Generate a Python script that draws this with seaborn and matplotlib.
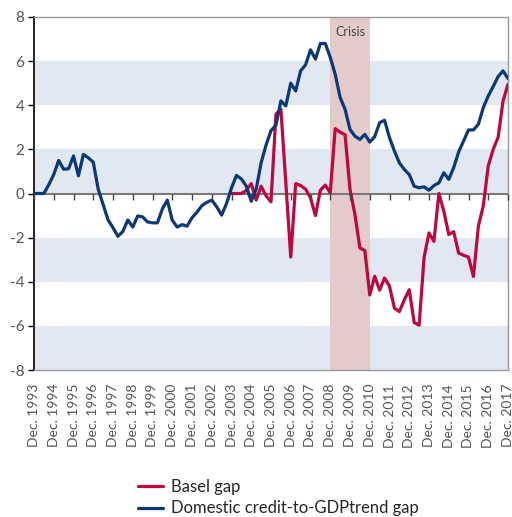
import numpy as np
import pandas as pd
import matplotlib
matplotlib.use("Agg")
import matplotlib.pyplot as plt
import seaborn as sns
from matplotlib.lines import Line2D

# Quarterly data, Dec. 1993 - Dec. 2017
quarters = pd.period_range("1993Q4", "2017Q4", freq="Q")

credit_gap = [0.0, 0.0, 0.0, 0.4, 0.86, 1.5, 1.1, 1.12, 1.7, 0.8,
              1.77, 1.62, 1.42, 0.2, -0.5, -1.2, -1.55, -1.94, -1.72, -1.2,
              -1.52, -1.02, -1.06, -1.29, -1.33, -1.33, -0.7, -0.3, -1.21, -1.52,
              -1.41, -1.48, -1.1, -0.85, -0.55, -0.4, -0.3, -0.6, -0.98, -0.45,
              0.25, 0.82, 0.66, 0.33, -0.35, 0.2, 1.39, 2.2, 2.85, 3.1,
              4.2, 3.97, 5.0, 4.65, 5.56, 5.83, 6.51, 6.09, 6.8, 6.8,
              6.17, 5.41, 4.35, 3.82, 2.9, 2.6, 2.45, 2.68, 2.33, 2.58,
              3.21, 3.32, 2.53, 1.92, 1.39, 1.09, 0.86, 0.33, 0.26, 0.3,
              0.15, 0.36, 0.48, 0.94, 0.64, 1.17, 1.88, 2.38, 2.88, 2.88,
              3.14, 3.9, 4.42, 4.85, 5.3, 5.56, 5.21]

# Basel gap starts in 2003Q4
basel_start = "2003Q4"
basel_gap = [0.0, 0.0, 0.0, 0.14, 0.45, -0.3, 0.33, -0.1, -0.38, 3.6,
             3.82, 0.5, -2.88, 0.45, 0.36, 0.2, -0.2, -1.0, 0.15, 0.38,
             0.03, 2.94, 2.78, 2.66, 0.18, -0.95, -2.47, -2.58, -4.6, -3.75,
             -4.38, -3.83, -4.2, -5.2, -5.35, -4.82, -4.36, -5.85, -5.97, -2.9,
             -1.79, -2.17, 0.0, -0.8, -1.86, -1.73, -2.7, -2.8, -2.88, -3.76,
             -1.48, -0.55, 1.25, 2.0, 2.55, 4.2, 4.95]

crisis = ("2008Q4", "2010Q4")
year_labels = [f"Dec. {y}" for y in range(1993, 2018)]

blue = "#0c3878"
red = "#c0063f"
band = "#e1e8f2"

# Build long table
qpos = {p: i for i, p in enumerate(quarters)}
df_blue = pd.DataFrame({"q": range(len(quarters)), "value": credit_gap,
                        "series": "Domestic credit-to-GDPtrend gap"})
b0 = qpos[pd.Period(basel_start, freq="Q")]
df_red = pd.DataFrame({"q": range(b0, b0 + len(basel_gap)), "value": basel_gap,
                       "series": "Basel gap"})
df = pd.concat([df_red, df_blue], ignore_index=True)

sns.set_style("white")
plt.rcParams["font.family"] = ["Lato", "DejaVu Sans"]

fig = plt.figure(figsize=(5.12, 5.17), dpi=100)
ax = fig.add_axes([34 / 512, 1 - 370 / 517, 474 / 512, 353 / 517])

# background bands
for lo in range(-8, 8, 4):
    ax.axhspan(lo, lo + 2, color=band, lw=0, zorder=0)

# crisis period
c0 = qpos[pd.Period(crisis[0], freq="Q")]
c1 = qpos[pd.Period(crisis[1], freq="Q")]
ax.axvspan(c0, c1, color="#e3cbcb", lw=0, zorder=0.5)
ax.text((c0 + c1) / 2, 7.6, "Crisis", ha="center", va="top", fontsize=9, color="#444444")

ax.axhline(0, color="#7a7a7a", lw=1.5, zorder=1)

sns.lineplot(data=df, x="q", y="value", hue="series",
             palette={"Basel gap": red, "Domestic credit-to-GDPtrend gap": blue},
             lw=2.3, ax=ax, legend=False, zorder=3)

n = len(quarters) - 1
ax.set_xlim(0, n)
ax.set_ylim(-8, 8)
ax.set_yticks(range(-8, 9, 2))
ax.set_yticklabels([str(v) for v in range(-8, 9, 2)], fontsize=11, color="#555555")
ax.set_xticks(range(0, n + 1, 4))
ax.set_xticklabels(year_labels, rotation=90, fontsize=10, color="#555555")
ax.tick_params(axis="x", length=0, pad=10)
ax.tick_params(axis="y", length=4, width=1, color="black", direction="out", pad=3, left=True)
ax.set_xlabel("")
ax.set_ylabel("")

for s in ["top", "right", "bottom"]:
    ax.spines[s].set_color("#999999")
    ax.spines[s].set_linewidth(1)
ax.spines["left"].set_color("black")
ax.spines["left"].set_linewidth(1.2)

# tick marks along the zero line
ax2 = ax.twiny()
ax2.set_xlim(ax.get_xlim())
ax2.set_xticks(range(0, n + 1, 4))
ax2.xaxis.set_ticks_position("bottom")
ax2.spines["bottom"].set_position(("axes", 0.5))
ax2.spines["bottom"].set_visible(False)
for s in ["top", "right", "left"]:
    ax2.spines[s].set_visible(False)
ax2.tick_params(axis="x", length=4, width=1, color="#444444", direction="out",
                labelbottom=False, labeltop=False)

handles = [Line2D([], [], color=red, lw=2.3), Line2D([], [], color=blue, lw=2.3)]
fig.legend(handles, ["Basel gap", "Domestic credit-to-GDPtrend gap"],
           loc="upper left", bbox_to_anchor=(131 / 512, 1 - 472 / 517),
           frameon=False, fontsize=12, handlelength=1.5, labelspacing=0.35,
           handletextpad=0.5, borderaxespad=0)

fig.savefig("out.png", dpi=100)
